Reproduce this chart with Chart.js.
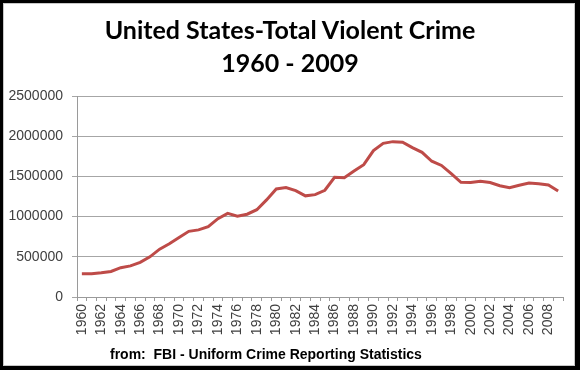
<!DOCTYPE html>
<html>
<head>
<meta charset="utf-8">
<title>United States-Total Violent Crime</title>
<script src="https://cdn.jsdelivr.net/npm/chart.js@4.4.1/dist/chart.umd.min.js"></script>
<style>
  html, body { margin: 0; padding: 0; background: #ffffff; }
  #wrap { position: relative; width: 580px; height: 370px; overflow: hidden; }
  #chart { position: absolute; left: 0; top: 0; }
  .frame { position: absolute; left: 0; top: 0; width: 580px; height: 370px; box-sizing: border-box;
           border-style: solid; border-color: #000; border-width: 3px 5px 4px 3px; pointer-events: none; }
  .inner { position: absolute; left: 3px; top: 3px; width: 572px; height: 363px; box-sizing: border-box;
           border: 1px solid #c8c8c8; pointer-events: none; }
  .title { position: absolute; left: 0; width: 580px; text-align: center; font-family: Lato, "Open Sans", sans-serif;
           font-weight: 700; font-size: 25px; color: #000; line-height: 1; }
  .footer { position: absolute; left: 110px; top: 346px; font-family: "Liberation Sans", Arial, sans-serif;
            font-weight: 700; font-size: 14px; color: #000; white-space: pre; }
</style>
</head>
<body>
<div id="wrap">
  <canvas id="chart" width="580" height="370"></canvas>
  <div class="title" style="top:17px">United States-Total Violent Crime</div>
  <div class="title" style="top:50px">1960 - 2009</div>
  <div class="footer">from:  FBI - Uniform Crime Reporting Statistics</div>
  <div class="frame"></div>
  <div class="inner"></div>
</div>
<script>
// Years 1960 - 2009
const years = [
  1960, 1961, 1962, 1963, 1964, 1965, 1966, 1967, 1968, 1969,
  1970, 1971, 1972, 1973, 1974, 1975, 1976, 1977, 1978, 1979,
  1980, 1981, 1982, 1983, 1984, 1985, 1986, 1987, 1988, 1989,
  1990, 1991, 1992, 1993, 1994, 1995, 1996, 1997, 1998, 1999,
  2000, 2001, 2002, 2003, 2004, 2005, 2006, 2007, 2008, 2009
];

// Total violent crime (offenses)
const violentCrime = [
  288460, 289390, 301510, 316970, 364220, 387390, 430180, 499930, 595010, 661870,
  738820, 816500, 834900, 875910, 974720, 1039710, 1004210, 1029580, 1085550, 1208030,
  1344520, 1361820, 1322390, 1258090, 1273280, 1327770, 1489170, 1484000, 1566220, 1646040,
  1820130, 1911770, 1932270, 1926020, 1857670, 1798790, 1688540, 1636100, 1533890, 1426040,
  1425490, 1439480, 1423680, 1383680, 1360090, 1390750, 1418040, 1408340, 1392630, 1318400
];

const yTicks = [0, 500000, 1000000, 1500000, 2000000, 2500000];

const axisFont = { family: "'Liberation Sans', Arial, sans-serif", size: 14 };

new Chart(document.getElementById('chart'), {
  type: 'line',
  data: {
    labels: years.map(String),
    datasets: [{
      label: 'Total Violent Crime',
      data: violentCrime,
      borderColor: '#be4b48',
      borderWidth: 3,
      pointRadius: 0,
      tension: 0,
      fill: false
    }]
  },
  options: {
    responsive: false,
    animation: false,
    layout: { padding: { left: 0, right: 17, top: 96, bottom: 33 } },
    plugins: {
      legend: { display: false },
      tooltip: { enabled: false }
    },
    scales: {
      x: {
        offset: true,
        afterFit: (scale) => { scale.height = 40; },
        grid: {
          offset: true,
          drawOnChartArea: false,
          tickLength: 4,
          color: '#9a9a9a'
        },
        border: { color: '#9a9a9a' },
        ticks: {
          autoSkip: false,
          minRotation: 90,
          maxRotation: 90,
          padding: 3,
          color: '#404040',
          font: axisFont,
          callback: function(value, index) {
            return index % 2 === 0 ? this.getLabelForValue(value) : '';
          }
        }
      },
      y: {
        min: 0,
        max: 2500000,
        afterFit: (scale) => { scale.width = 77; },
        afterBuildTicks: (scale) => { scale.ticks = yTicks.map(v => ({ value: v })); },
        grid: { color: '#a6a6a6', tickLength: 5 },
        border: { color: '#9a9a9a' },
        ticks: {
          padding: 9,
          color: '#404040',
          font: axisFont,
          callback: (value) => String(value)
        }
      }
    }
  }
});
</script>
</body>
</html>
